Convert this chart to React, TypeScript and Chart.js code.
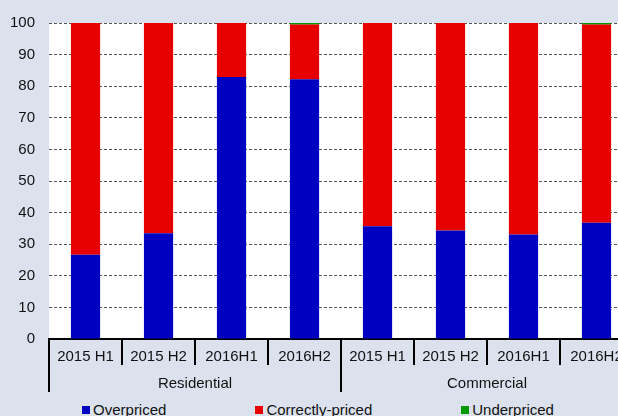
import React, { useEffect, useRef } from "react";
import { Chart, registerables } from "chart.js";

Chart.register(...registerables);

const categories = ["2015 H1", "2015 H2", "2016H1", "2016H2", "2015 H1", "2015 H2", "2016H1", "2016H2"];
const groups = ["Residential", "Commercial"];
const overpriced = [26.7, 33.5, 82.9, 82.2, 35.7, 34.3, 33.1, 36.8];
const correctlyPriced = [73.3, 66.5, 17.1, 17.3, 64.3, 65.7, 66.9, 62.7];
const underpriced = [0, 0, 0, 0.5, 0, 0, 0, 0.5];
const seriesNames = ["Overpriced", "Correctly-priced", "Underpriced"];
const seriesColors = ["#0000c0", "#e60000", "#009a00"];
const yTicks = [0, 10, 20, 30, 40, 50, 60, 70, 80, 90, 100];

const BG = "#dbe2ee";
const FONT = "'Liberation Sans', Arial, sans-serif";

const whiteArea = {
  id: "whiteArea",
  beforeDraw(chart: any) {
    const { ctx, chartArea } = chart;
    ctx.save();
    ctx.fillStyle = "#ffffff";
    ctx.fillRect(chartArea.left, chartArea.top, chartArea.right - chartArea.left, chartArea.bottom - chartArea.top);
    ctx.restore();
  },
};

const sepAxis = (labels: string[], len: number) => ({
  type: "category",
  axis: "x",
  labels,
  position: { y: 0 },
  offset: true,
  border: { display: false },
  grid: { offset: true, drawOnChartArea: false, drawTicks: true, tickLength: len, color: "#000", lineWidth: 2 },
  ticks: { display: false },
});

export default function App() {
  const ref = useRef<HTMLCanvasElement | null>(null);

  useEffect(() => {
    if (!ref.current) return;
    const values = [overpriced, correctlyPriced, underpriced];
    const chart = new Chart(ref.current, {
      type: "bar",
      data: {
        labels: categories,
        datasets: values.map((v, i) => ({
          label: seriesNames[i],
          data: v,
          backgroundColor: seriesColors[i],
          borderWidth: 0,
          barPercentage: 0.4,
          categoryPercentage: 1,
          xAxisID: "x",
        })),
      },
      options: {
        animation: false,
        responsive: true,
        maintainAspectRatio: false,
        layout: { padding: { left: -4, right: 7, top: 14, bottom: 7 } },
        plugins: { legend: { display: false }, tooltip: { enabled: false } },
        scales: {
          x: {
            type: "category",
            stacked: true,
            offset: true,
            border: { display: true, color: "#000", width: 2 },
            grid: { offset: true, drawOnChartArea: false, drawTicks: false },
            ticks: { color: "#111", font: { family: FONT, size: 15 }, padding: 9, maxRotation: 0, autoSkip: false },
          },
          x2: {
            type: "category",
            axis: "x",
            labels: groups,
            position: "bottom",
            offset: true,
            border: { display: false },
            grid: { offset: true, drawOnChartArea: false, drawTicks: false },
            ticks: { color: "#111", font: { family: FONT, size: 15 }, padding: 0, maxRotation: 0 },
          },
          sepCat: sepAxis(categories, 26),
          sepGroup: sepAxis(groups, 53),
          y: {
            stacked: true,
            min: 0,
            max: 100,
            afterBuildTicks: (s: any) => {
              s.ticks = yTicks.map((v) => ({ value: v }));
            },
            border: { display: false, dash: [3, 2] },
            grid: { color: "#555", lineWidth: 1, drawTicks: false },
            ticks: { color: "#111", font: { family: FONT, size: 15 }, padding: 14 },
          },
        },
      },
      plugins: [whiteArea],
    } as any);
    return () => chart.destroy();
  }, []);

  return (
    <div style={{ position: "fixed", left: 0, top: 0, width: 618, height: 416, overflow: "hidden", background: BG }}>
      <div style={{ position: "absolute", left: 0, top: 0, width: 640, height: 400 }}>
        <canvas ref={ref} />
      </div>
      <div
        style={{
          position: "absolute",
          left: 0,
          top: 401,
          width: 636,
          display: "flex",
          justifyContent: "center",
          gap: 89,
          fontFamily: FONT,
          fontSize: 15,
          lineHeight: "18px",
          color: "#111",
          whiteSpace: "nowrap",
        }}
      >
        {seriesNames.map((n, i) => (
          <div key={n} style={{ display: "flex", alignItems: "center" }}>
            <span style={{ width: 8, height: 8, background: seriesColors[i], marginRight: 3, display: "inline-block" }} />
            <span>{n}</span>
          </div>
        ))}
      </div>
    </div>
  );
}
